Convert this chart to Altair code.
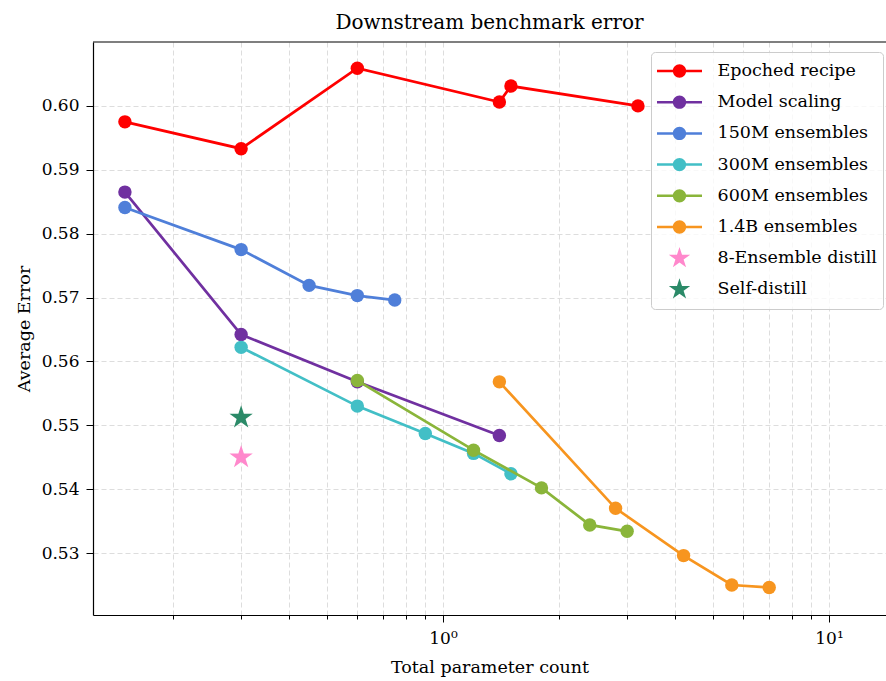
import math
import altair as alt
import pandas as pd

FONT = "DejaVu Serif"

# Series names and colours (legend order)
series_names = [
    "Epoched recipe", "Model scaling", "150M ensembles", "300M ensembles",
    "600M ensembles", "1.4B ensembles", "8-Ensemble distill", "Self-distill",
]
series_colors = [
    "#ff0000", "#7030a0", "#4f7fd9", "#42bfc6",
    "#8ab53a", "#f7951f", "#ff88cc", "#2b8a68",
]

# Total parameter count (billions) and average downstream error per series
epoched_x = [0.15, 0.3, 0.6, 1.4, 1.5, 3.2]
epoched_y = [0.5975, 0.5933, 0.6059, 0.6006, 0.6031, 0.6000]

scaling_x = [0.15, 0.3, 0.6, 1.4]
scaling_y = [0.5865, 0.5642, 0.5568, 0.5484]

e150_x = [0.15, 0.3, 0.45, 0.6, 0.75]
e150_y = [0.5841, 0.5775, 0.5719, 0.5703, 0.5696]

e300_x = [0.3, 0.6, 0.9, 1.2, 1.5]
e300_y = [0.5622, 0.5530, 0.5487, 0.5456, 0.5424]

e600_x = [0.6, 1.2, 1.8, 2.4, 3.0]
e600_y = [0.5570, 0.5461, 0.5402, 0.5344, 0.5334]

e1400_x = [1.4, 2.8, 4.2, 5.6, 7.0]
e1400_y = [0.5568, 0.5370, 0.5296, 0.5250, 0.5246]

distill8_x = [0.3]
distill8_y = [0.5450]

selfdistill_x = [0.3]
selfdistill_y = [0.5512]

line_series = [
    ("Epoched recipe", epoched_x, epoched_y),
    ("Model scaling", scaling_x, scaling_y),
    ("150M ensembles", e150_x, e150_y),
    ("300M ensembles", e300_x, e300_y),
    ("600M ensembles", e600_x, e600_y),
    ("1.4B ensembles", e1400_x, e1400_y),
]
star_series = [
    ("8-Ensemble distill", distill8_x, distill8_y),
    ("Self-distill", selfdistill_x, selfdistill_y),
]

rows = []
for name, xs, ys in line_series + star_series:
    for x, y in zip(xs, ys):
        rows.append({"series": name, "params": x, "error": y})
df = pd.DataFrame(rows)
color_of = dict(zip(series_names, series_colors))

x_tick_values = [0.2, 0.3, 0.4, 0.5, 0.6, 0.7, 0.8, 0.9, 1, 2, 3, 4, 5, 6, 7, 8, 9, 10]
y_tick_values = [0.53, 0.54, 0.55, 0.56, 0.57, 0.58, 0.59, 0.60]


def star_path(r_out, ratio=0.381966):
    pts = []
    for k in range(10):
        ang = math.radians(-90 + 36 * k)
        r = r_out if k % 2 == 0 else r_out * ratio
        pts.append(f"{r * math.cos(ang):.4f},{r * math.sin(ang):.4f}")
    return "M" + "L".join(pts) + "Z"


# legend glyph: short line with a dot in the middle (both drawn as filled shapes)
h, rc = 0.056, 0.296
line_dot = (
    f"M-1,{-h}H1V{h}H-1Z"
    f"M{-rc},0A{rc},{rc} 0 1,1 {rc},0A{rc},{rc} 0 1,1 {-rc},0Z"
)
legend_shapes = [line_dot] * 6 + [star_path(0.5)] * 2
plot_star = star_path(1.0)

W, H = 793, 573

x_axis = alt.Axis(
    values=x_tick_values,
    labelExpr="datum.value == 1 ? '10⁰' : datum.value == 10 ? '10¹' : ''",
    tickSize={"condition": {"test": "datum.value == 1 || datum.value == 10", "value": 7}, "value": 4},
    labelOverlap=False, labelFlush=False,
    grid=True, gridDash=[5, 3], gridColor="#dddddd", gridWidth=1,
    domainColor="black", domainWidth=1.2, tickColor="black", tickWidth=1,
    labelFont=FONT, labelFontSize=17, labelColor="black", labelPadding=8,
    titleFont=FONT, titleFontSize=17.5, titleFontWeight="normal", titleColor="black",
    titlePadding=12,
)
y_axis = alt.Axis(
    values=y_tick_values, format=".2f",
    tickSize=7, labelOverlap=False, labelFlush=False,
    grid=True, gridDash=[5, 3], gridColor="#dddddd", gridWidth=1,
    domainColor="black", domainWidth=1.2, tickColor="black", tickWidth=1,
    labelFont=FONT, labelFontSize=17, labelColor="black", labelPadding=7,
    titleFont=FONT, titleFontSize=17.5, titleFontWeight="normal", titleColor="black",
    titlePadding=8,
)

x_enc = alt.X("params:Q", title="Total parameter count",
              scale=alt.Scale(type="log", domain=[0.124, 14.05], nice=False),
              axis=x_axis)
y_enc = alt.Y("error:Q", title="Average Error",
              scale=alt.Scale(domain=[0.5203, 0.6100], nice=False, zero=False),
              axis=y_axis)

base = alt.Chart(df)

layers = []
# each series: its line, then its markers on top
for name, _, _ in line_series:
    sub = base.transform_filter(alt.datum.series == name)
    layers.append(
        sub.mark_line(strokeWidth=2.7, color=color_of[name]).encode(x=x_enc, y=y_enc)
    )
    layers.append(
        sub.mark_circle(size=180, opacity=1, color=color_of[name]).encode(x=x_enc, y=y_enc)
    )

for name, _, _ in star_series:
    layers.append(
        base.transform_filter(alt.datum.series == name)
        .mark_point(filled=True, opacity=1, size=600, shape=plot_star,
                    strokeWidth=0, color=color_of[name])
        .encode(x=x_enc, y=y_enc)
    )

# invisible layer that carries the legend
legend = alt.Legend(
    title=None, orient="none", legendX=558, legendY=10,
    padding=6, symbolSize=2025, clipHeight=26, rowPadding=5.2,
    labelOffset=15.5, symbolOffset=0, symbolOpacity=1, symbolStrokeWidth=0,
    labelFont=FONT, labelFontSize=17.5, labelColor="black", labelLimit=300,
    strokeColor="#cccccc", fillColor="rgba(255,255,255,0.8)", cornerRadius=4,
)
layers.append(
    base.mark_point(filled=True, opacity=0, size=2025).encode(
        x=x_enc, y=y_enc,
        color=alt.Color("series:N", scale=alt.Scale(domain=series_names, range=series_colors),
                        legend=legend),
        shape=alt.Shape("series:N", scale=alt.Scale(domain=series_names, range=legend_shapes),
                        legend=legend),
    )
)

# upper frame line
layers.append(
    alt.Chart(alt.Data(values=[{}])).mark_rule(color="black", strokeWidth=1.2).encode(
        x=alt.value(0), x2=alt.value(W), y=alt.value(0)
    )
)

chart = (
    alt.layer(*layers)
    .properties(
        width=W, height=H,
        autosize=alt.AutoSizeParams(type="none"),
        padding={"left": 93, "top": 42, "right": 0, "bottom": 66},
        title=alt.TitleParams(
            "Downstream benchmark error", font=FONT, fontSize=20,
            fontWeight="normal", color="black", anchor="middle", offset=8,
        ),
        background="white",
    )
    .configure_view(stroke=None)
)

chart.save("out.html", embed_options={"renderer": "svg", "actions": False})
